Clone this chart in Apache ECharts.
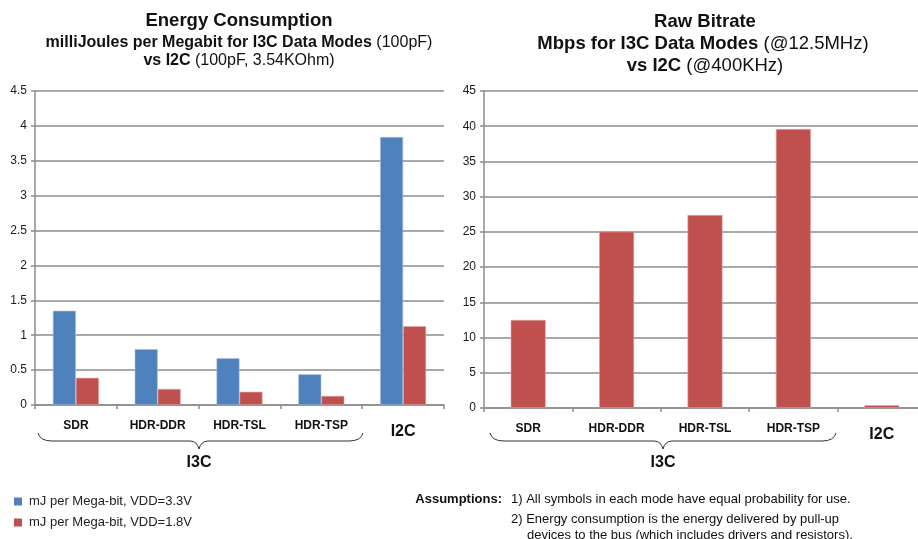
<!DOCTYPE html>
<html>
<head>
<meta charset="utf-8">
<script src="https://cdn.jsdelivr.net/npm/echarts@6/dist/echarts.min.js"></script>
<style>html,body{margin:0;padding:0;background:#fff;}#c{width:918px;height:539px;}</style>
</head>
<body>
<div id="c"></div>
<script>
// ---- data ----
var categories = ['SDR', 'HDR-DDR', 'HDR-TSL', 'HDR-TSP', 'I2C'];
var energy33 = [1.35, 0.80, 0.67, 0.44, 3.84];
var energy18 = [0.39, 0.23, 0.19, 0.13, 1.13];
var bitrate = [12.5, 25.05, 27.4, 39.6, 0.4];
var energyTicks = {min: 0, max: 4.5, interval: 0.5};
var bitrateTicks = {min: 0, max: 45, interval: 5};
var seriesNames = ['mJ per Mega-bit, VDD=3.3V', 'mJ per Mega-bit, VDD=1.8V'];

var FONT = '"Liberation Sans", Arial, sans-serif';
var BLUE = '#4F81BD', RED = '#C0504D';
var GRID_C = '#8c8c8c';

var chart = echarts.init(document.getElementById('c'), null, {renderer: 'canvas'});

function catLabel(v) { return v === 'I2C' ? '{b|' + v + '}' : '{a|' + v + '}'; }
var xAxisBase = {
  type: 'category', data: categories,
  axisLine: {lineStyle: {color: GRID_C, width: 1.5}},
  axisTick: {show: true, length: 4, lineStyle: {color: GRID_C, width: 1.5}},
  axisLabel: {
    margin: 14, formatter: catLabel, interval: 0,
    rich: {
      a: {fontFamily: FONT, fontSize: 12, fontWeight: 'bold', color: '#111', lineHeight: 14},
      b: {fontFamily: FONT, fontSize: 16, fontWeight: 'bold', color: '#111', lineHeight: 26}
    }
  }
};
function yAxisBase(t) {
  return {
    type: 'value', min: t.min, max: t.max, interval: t.interval,
    axisLine: {show: true, lineStyle: {color: GRID_C, width: 1.5}},
    axisTick: {show: true, length: 4, lineStyle: {color: GRID_C, width: 1.5}},
    axisLabel: {fontFamily: FONT, fontSize: 12, color: '#1a1a1a', margin: 8},
    splitLine: {lineStyle: {color: GRID_C, width: 1.5}}
  };
}

function titleLine(x, y, parts) {
  var txt = '', rich = {};
  parts.forEach(function (p, i) {
    var k = 'p' + i;
    txt += '{' + k + '|' + p[0] + '}';
    rich[k] = {fontFamily: FONT, fontSize: p[2], fontWeight: p[1] ? 'bold' : 'normal', fill: '#111', color: '#111'};
  });
  return {type: 'text', x: x, y: y, style: {text: txt, rich: rich, textAlign: 'center', textVerticalAlign: 'middle', align: 'center', verticalAlign: 'middle'}};
}
function plain(x, y, text, bold, size, align) {
  return {type: 'text', x: x, y: y, style: {text: text, fontFamily: FONT, fontSize: size, fontWeight: bold ? 'bold' : 'normal', fill: '#111', textAlign: align || 'left', textVerticalAlign: 'middle', align: align || 'left', verticalAlign: 'middle'}};
}
function brace(x1, x2, xm, y1, y2, y3) {
  var st = {fill: 'none', stroke: '#333', lineWidth: 1};
  function q(ax, ay, cx, cy, bx, by) {
    return {type: 'bezierCurve', shape: {x1: ax, y1: ay, x2: bx, y2: by, cpx1: cx, cpy1: cy}, style: st};
  }
  function l(ax, ay, bx, by) {
    return {type: 'line', shape: {x1: ax, y1: ay, x2: bx, y2: by}, style: st};
  }
  return [
    q(x1, y1, x1 + 2, y2, x1 + 14, y2),
    l(x1 + 14, y2, xm - 9, y2),
    q(xm - 9, y2, xm - 2, y2, xm, y3),
    q(xm, y3, xm + 2, y2, xm + 9, y2),
    l(xm + 9, y2, x2 - 14, y2),
    q(x2 - 14, y2, x2 - 2, y2, x2, y1)
  ];
}

var graphics = [
  titleLine(239, 21, [['Energy Consumption', true, 18.5]]),
  titleLine(239, 43, [['milliJoules per Megabit for I3C Data Modes', true, 16], [' (100pF)', false, 16]]),
  titleLine(239, 61, [['vs I2C', true, 16], [' (100pF, 3.54KOhm)', false, 16]]),
  titleLine(705, 22, [['Raw Bitrate', true, 18.5]]),
  titleLine(703, 44, [['Mbps for I3C Data Modes', true, 18.5], [' (@12.5MHz)', false, 18.5]]),
  titleLine(705, 66, [['vs I2C', true, 18.5], [' (@400KHz)', false, 18.5]]),
  plain(199, 463, 'I3C', true, 16, 'center'),
  plain(663, 463, 'I3C', true, 16, 'center'),
  plain(502, 499, 'Assumptions:', true, 13, 'right'),
  plain(511, 499, '1) All symbols in each mode have equal probability for use.', false, 13),
  plain(511, 519, '2) Energy consumption is the energy delivered by pull-up', false, 13),
  plain(527, 535, 'devices to the bus (which includes drivers and resistors).', false, 13)
].concat(brace(38, 363, 199, 433, 441, 449), brace(490, 836, 663, 433, 441, 449));

function legendItem(name, top) {
  return {
    data: [name], left: 9, top: top,
    icon: 'rect', itemWidth: 8, itemHeight: 8, itemGap: 8,
    itemStyle: {borderWidth: 0},
    textStyle: {fontFamily: FONT, fontSize: 13, color: '#222', padding: [0, 0, 0, 2]}
  };
}

var option = {
  animation: false,
  backgroundColor: '#fff',
  grid: [
    {left: 35, top: 91, width: 409, height: 314, outerBoundsMode: 'none', containLabel: false},
    {left: 484, top: 91, width: 442, height: 317, outerBoundsMode: 'none', containLabel: false}
  ],
  xAxis: [
    Object.assign({gridIndex: 0}, xAxisBase),
    Object.assign({gridIndex: 1}, xAxisBase)
  ],
  yAxis: [
    Object.assign({gridIndex: 0}, yAxisBase(energyTicks)),
    Object.assign({gridIndex: 1}, yAxisBase(bitrateTicks))
  ],
  legend: [
    legendItem(seriesNames[0], 490),
    legendItem(seriesNames[1], 511)
  ],
  series: [
    {name: seriesNames[0], type: 'bar', xAxisIndex: 0, yAxisIndex: 0, data: energy33,
      barWidth: 23, barGap: '0%', itemStyle: {color: BLUE, borderColor: '#a9c0de', borderWidth: 0.6}},
    {name: seriesNames[1], type: 'bar', xAxisIndex: 0, yAxisIndex: 0, data: energy18,
      barWidth: 23, barGap: '0%', itemStyle: {color: RED, borderColor: '#e0a9a7', borderWidth: 0.6}},
    {name: 'Mbps', type: 'bar', xAxisIndex: 1, yAxisIndex: 1, data: bitrate,
      barWidth: 35, itemStyle: {color: RED, borderColor: '#e0a9a7', borderWidth: 0.6}}
  ],
  graphic: graphics
};
chart.setOption(option);
</script>
</body>
</html>
